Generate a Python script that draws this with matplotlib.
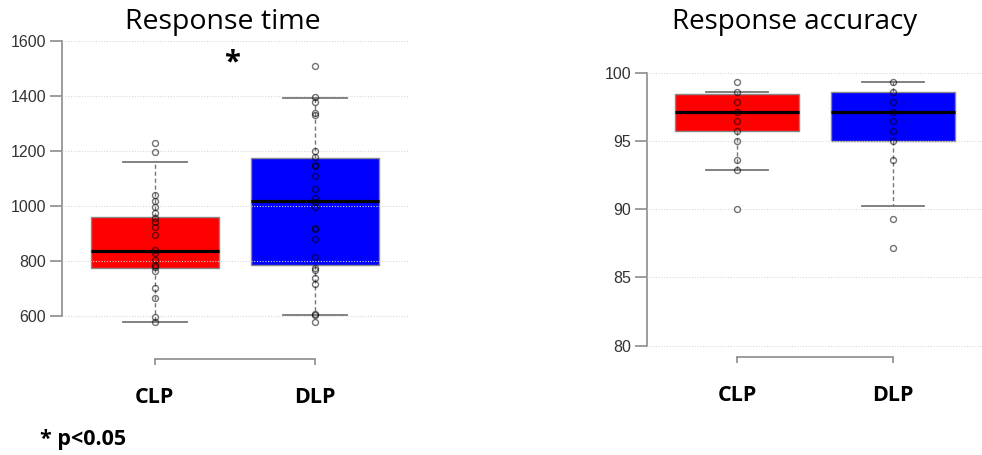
import matplotlib
matplotlib.use("Agg")
import matplotlib.pyplot as plt

# ----------------------------
# data
# ----------------------------
groups = ["CLP", "DLP"]
box_colors = ["#ff0000", "#0000ff"]

# Response time (ms): box statistics
rt_q1 = [776, 784]
rt_med = [837, 1019]
rt_q3 = [959, 1173]
rt_whislo = [579, 604]
rt_whishi = [1159, 1393]
# individual subjects
rt_clp = [1228, 1198, 1042, 1019, 998, 976, 955, 943, 925, 895, 840, 830,
          804, 786, 777, 763, 701, 664, 598, 579]
rt_dlp = [1510, 1398, 1379, 1337, 1331, 1201, 1179, 1149, 1145, 1109, 1061,
          1028, 1016, 998, 919, 915, 879, 816, 773, 767, 737, 716, 607, 604, 579]

# Response accuracy (%): box statistics
acc_q1 = [95.76, 95.0]
acc_med = [97.14, 97.14]
acc_q3 = [98.44, 98.57]
acc_whislo = [92.86, 90.2]
acc_whishi = [98.57, 99.29]
acc_clp = [99.29, 98.57, 97.86, 97.14, 96.43, 95.71, 95.0, 93.57, 92.86, 90.0]
acc_dlp = [99.29, 98.57, 97.86, 97.14, 96.43, 95.71, 95.0, 93.57, 89.29, 87.14]

rt_ticks = [600, 800, 1000, 1200, 1400, 1600]
acc_ticks = [80, 85, 90, 95, 100]

W, H = 982, 455
fig = plt.figure(figsize=(W / 100, H / 100), dpi=100)


def px_axes(x0, x1, y0, y1):
    # pixel box (top-left origin) -> figure fraction
    return fig.add_axes([x0 / W, 1 - y1 / H, (x1 - x0) / W, (y1 - y0) / H])


def r_boxplot(ax, q1, med, q3, lo, hi, points, ticks, ylim):
    stats = []
    for i in range(len(groups)):
        stats.append(dict(med=med[i], q1=q1[i], q3=q3[i],
                          whislo=lo[i], whishi=hi[i], fliers=[]))
    bp = ax.bxp(stats, positions=[1, 2], widths=0.8, patch_artist=True,
                showfliers=False,
                boxprops=dict(edgecolor="#888888", linewidth=1.0),
                whiskerprops=dict(color="#777777", linestyle=(0, (3, 2)), linewidth=1.0),
                capprops=dict(color="#777777", linewidth=1.3),
                medianprops=dict(color="black", linewidth=2.3))
    for patch, c in zip(bp["boxes"], box_colors):
        patch.set_facecolor(c)
    for cap in bp["caps"]:
        xd = cap.get_xdata()
        m = (xd[0] + xd[1]) / 2
        cap.set_xdata([m - 0.2, m + 0.2])

    # grid lines over the boxes, like abline(h=...) in R
    for t in ticks:
        ax.axhline(t, color="#d8d8d8", linestyle=(0, (1, 1.5)), linewidth=0.8, zorder=3)

    for i, pts in enumerate(points):
        ax.plot([i + 1] * len(pts), pts, linestyle="none", marker="o",
                markersize=4.3, markerfacecolor="none",
                markeredgecolor=(0, 0, 0, 0.55), markeredgewidth=1.0, zorder=4)

    ax.set_xlim(0.42, 2.58)
    ax.set_ylim(*ylim)
    for s in ["top", "right"]:
        ax.spines[s].set_visible(False)
    ax.spines["left"].set_bounds(ticks[0], ticks[-1])
    ax.spines["bottom"].set_bounds(1, 2)
    for s in ["left", "bottom"]:
        ax.spines[s].set_color("#8c8c8c")
        ax.spines[s].set_linewidth(1.2)
    ax.set_yticks(ticks)
    ax.set_yticklabels([str(t) for t in ticks], family="Liberation Sans",
                       fontsize=11.5, color="#333333")
    ax.tick_params(axis="y", length=8.5, width=1.2, color="#8c8c8c", pad=3)
    ax.set_xticks([1, 2])
    ax.set_xticklabels(groups, family="Open Sans", fontweight="bold",
                       fontsize=15.5, color="black")
    ax.tick_params(axis="x", length=4.5, width=1.2, color="#8c8c8c", pad=16)


# left panel: response time
ax1 = px_axes(62, 408, 30, 359)
r_boxplot(ax1, rt_q1, rt_med, rt_q3, rt_whislo, rt_whishi,
          [rt_clp, rt_dlp], rt_ticks, (444, 1640))

# right panel: response accuracy
ax2 = px_axes(647, 983, 61.7, 356.7)
r_boxplot(ax2, acc_q1, acc_med, acc_q3, acc_whislo, acc_whishi,
          [acc_clp, acc_dlp], acc_ticks, (79.2, 100.8))

fig.text(223 / W, 1 - 22 / H, "Response time", family="Open Sans",
         fontsize=20.5, ha="center", va="center")
fig.text(795 / W, 1 - 22 / H, "Response accuracy", family="Open Sans",
         fontsize=20, ha="center", va="center")
fig.text(232 / W, 1 - 63 / H, "*", family="Open Sans", fontweight="bold",
         fontsize=21, ha="center", va="center")
fig.text(40 / W, 1 - 440 / H, "* p<0.05", family="Open Sans",
         fontweight="bold", fontsize=15.5, ha="left", va="center")

fig.savefig("out.png", dpi=100)
